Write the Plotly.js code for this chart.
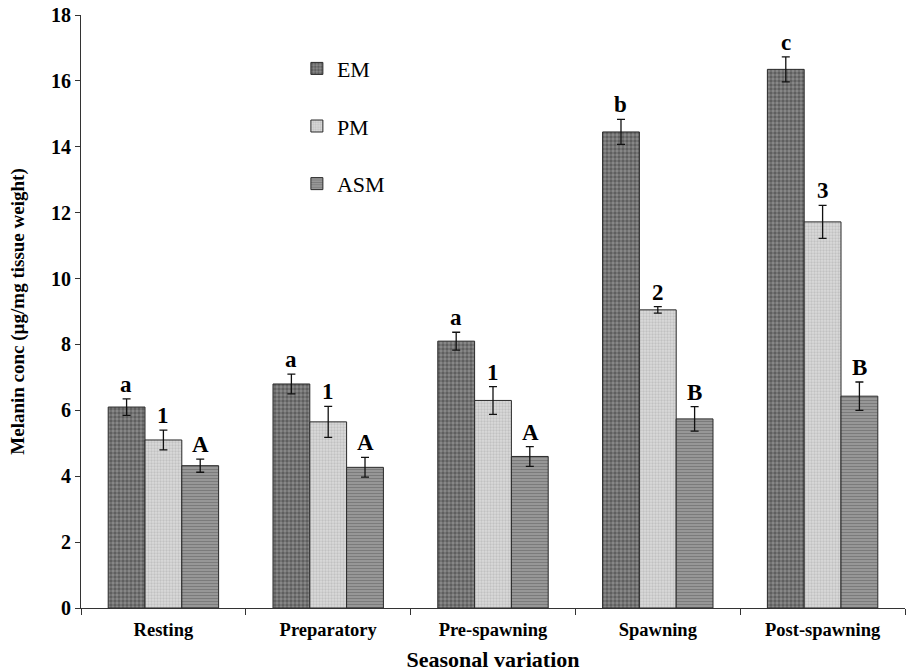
<!DOCTYPE html>
<html>
<head>
<meta charset="utf-8">
<script src="https://cdn.plot.ly/plotly-3.0.1.min.js"></script>
<style>html,body{margin:0;padding:0;background:#fff;}#chart{width:906px;height:672px;}</style>
</head>
<body>
<div id="chart"></div>
<script>
const categories = ["Resting", "Preparatory", "Pre-spawning", "Spawning", "Post-spawning"];
const seriesNames = ["EM", "PM", "ASM"];
const emValues = [6.1, 6.8, 8.1, 14.45, 16.35];
const pmValues = [5.1, 5.65, 6.3, 9.05, 11.72];
const asmValues = [4.32, 4.27, 4.6, 5.74, 6.43];
const emErrors = [0.25, 0.3, 0.27, 0.38, 0.38];
const pmErrors = [0.3, 0.47, 0.42, 0.1, 0.5];
const asmErrors = [0.2, 0.3, 0.3, 0.37, 0.43];
const emLetters = ["a", "a", "a", "b", "c"];
const pmLetters = ["1", "1", "1", "2", "3"];
const asmLetters = ["A", "A", "A", "B", "B"];

const values = [emValues, pmValues, asmValues];
const errors = [emErrors, pmErrors, asmErrors];
const letters = [emLetters, pmLetters, asmLetters];
const patterns = [
  {shape: ".", bgcolor: "#8a8a8a", fgcolor: "#333333", size: 4, solidity: 0.55, fillmode: "overlay"},
  {shape: ".", bgcolor: "#dadada", fgcolor: "#a8a8a8", size: 3, solidity: 0.45, fillmode: "overlay"},
  {shape: "-", bgcolor: "#a0a0a0", fgcolor: "#555555", size: 3, solidity: 0.5, fillmode: "overlay"}
];
const serif = "Liberation Serif, Times New Roman, serif";

const traces = seriesNames.map((n, i) => ({
  type: "bar",
  name: n,
  x: categories,
  y: values[i],
  legendgroup: n,
  marker: {color: patterns[i].bgcolor, pattern: patterns[i], line: {color: "#2a2a2a", width: 1}},
  error_y: {type: "data", array: errors[i], visible: true, color: "#111", thickness: 1.3, width: 4}
}));

const annotations = [];
seriesNames.forEach((n, i) => {
  categories.forEach((c, j) => {
    annotations.push({
      x: c, y: values[i][j] + errors[i][j], xref: "x", yref: "y",
      text: letters[i][j], showarrow: false, xanchor: "center", yanchor: "bottom",
      xshift: (i - 1) * 37, yshift: 0,
      font: {family: serif, size: 23, color: "#000", weight: "bold"}
    });
  });
});

const layout = {
  width: 906, height: 672,
  margin: {l: 81, r: 1, t: 15, b: 64},
  paper_bgcolor: "#fff", plot_bgcolor: "#fff",
  barmode: "group", bargap: 0.33, bargroupgap: 0,
  showlegend: true,
  legend: {x: 0.262, y: 0.945, xanchor: "left", yanchor: "top", bgcolor: "rgba(0,0,0,0)",
    font: {family: serif, size: 22, color: "#000"}, tracegroupgap: 26, itemwidth: 30},
  xaxis: {
    showline: true, linecolor: "#333", linewidth: 1, ticks: "outside", ticklen: 6, tickcolor: "#333",
    tickson: "boundaries", showgrid: false, ticklabelstandoff: 5,
    tickfont: {family: serif, size: 18.5, color: "#000", weight: "bold"},
    title: {text: "Seasonal variation", font: {family: serif, size: 22, color: "#000", weight: "bold"}, standoff: 12}
  },
  yaxis: {
    range: [0, 18], dtick: 2, showline: true, linecolor: "#333", linewidth: 1,
    ticks: "outside", ticklen: 5, tickcolor: "#333", showgrid: false, zeroline: false,
    tickfont: {family: serif, size: 20, color: "#000", weight: "bold"},
    title: {text: "Melanin conc (µg/mg tissue weight)", font: {family: serif, size: 19, color: "#000", weight: "bold"}, standoff: 21}
  },
  annotations: annotations
};

Plotly.newPlot("chart", traces, layout, {displayModeBar: false, staticPlot: true});
</script>
</body>
</html>
